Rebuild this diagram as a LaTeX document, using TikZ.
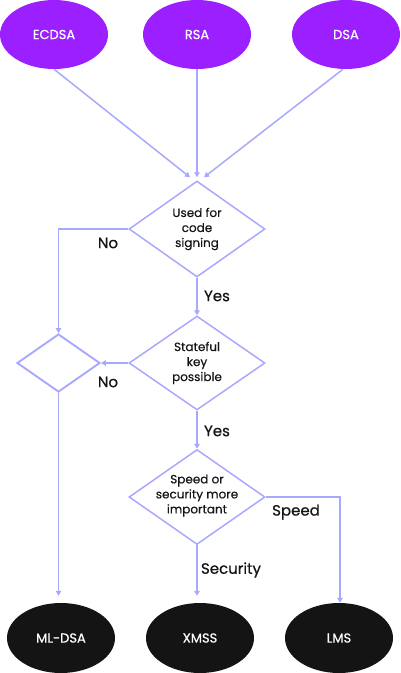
\documentclass[tikz,border=0pt]{standalone}
\usepackage{fontspec}
\setmainfont{Poppins}
\newfontfamily\pmed{Poppins}[FakeBold=0.6]
\newfontfamily\plight{Poppins}[FakeBold=0.3]
\usetikzlibrary{shapes.geometric,arrows.meta}
\definecolor{purp}{HTML}{9B1FFF}
\definecolor{linkc}{HTML}{A8A8FF}
\definecolor{darkc}{HTML}{141414}
\tikzset{
  topell/.style={ellipse,fill=purp,text=white,minimum width=108pt,minimum height=69pt,inner sep=0pt,font=\pmed\fontsize{13}{15}\selectfont},
  botell/.style={ellipse,fill=darkc,text=white,minimum width=108pt,minimum height=70pt,inner sep=0pt,font=\pmed\fontsize{13}{15}\selectfont},
  dia/.style={diamond,draw=linkc,line width=1.5pt,inner sep=0pt},
  diatext/.style={align=center,font=\plight\fontsize{12}{15}\selectfont,text=darkc},
  lbl/.style={font=\pmed\fontsize{15}{17}\selectfont,text=darkc},
  arr/.style={draw=linkc,line width=1.5pt,-{Triangle[length=5pt,width=5.5pt]}}
}
\begin{document}
\begin{tikzpicture}[x=1pt,y=-1pt]
\useasboundingbox (0,0) rectangle (400,673);
\node[topell] (ecdsa) at (54,34.5) {ECDSA};
\node[topell] (rsa) at (197,34.5) {RSA};
\node[topell] (dsa) at (346,34.5) {DSA};

\node[dia,minimum width=136pt,minimum height=96pt] (d1) at (197,229) {};
\node[diatext] (t1) at (197,229) {Used for\\code\\signing};
\node[dia,minimum width=136pt,minimum height=94pt] (d2) at (197,363) {};
\node[diatext] (t2) at (197,363) {Stateful\\key\\possible};
\node[dia,minimum width=136pt,minimum height=95pt] (d3) at (197,497) {};
\node[diatext] (t3) at (197,495.5) {Speed or\\security more\\important};
\node[dia,line width=1.9pt,minimum width=83pt,minimum height=58pt] (sd) at (58.5,363) {};

\node[botell] (mldsa) at (61,638) {ML-DSA};
\node[botell] (xmss) at (200,638) {XMSS};
\node[botell] (lms) at (339,638) {LMS};

\draw[arr] (ecdsa.south) -- ([xshift=-7pt,yshift=3pt]d1.north);
\draw[arr] (rsa.south) -- ([yshift=3pt]d1.north);
\draw[arr] (dsa.south) ++(-3pt,0) -- ([xshift=7pt,yshift=3pt]d1.north);

\draw[arr] (d1.west) -| (sd.north);
\draw[arr] (d1.south) -- (d2.north);
\draw[arr] (d2.west) -- (sd.east);
\draw[arr] (d2.south) -- (d3.north);
\draw[arr] (d3.east) -| ([xshift=1pt]lms.north);
\draw[arr,shorten >=7pt] (d3.south) -- (d3.south |- xmss.north);
\draw[arr,shorten >=7pt] (sd.south) -- (sd.south |- mldsa.north);

\node[lbl] (no1) at (108,243) {No};
\node[lbl] (yes1) at (217,296) {Yes};
\node[lbl] (no2) at (108,382) {No};
\node[lbl] (yes2) at (217,431) {Yes};
\node[lbl] (speed) at (296,512) {Speed};
\node[lbl] (sec) at (231,570) {Security};
\end{tikzpicture}
\end{document}
